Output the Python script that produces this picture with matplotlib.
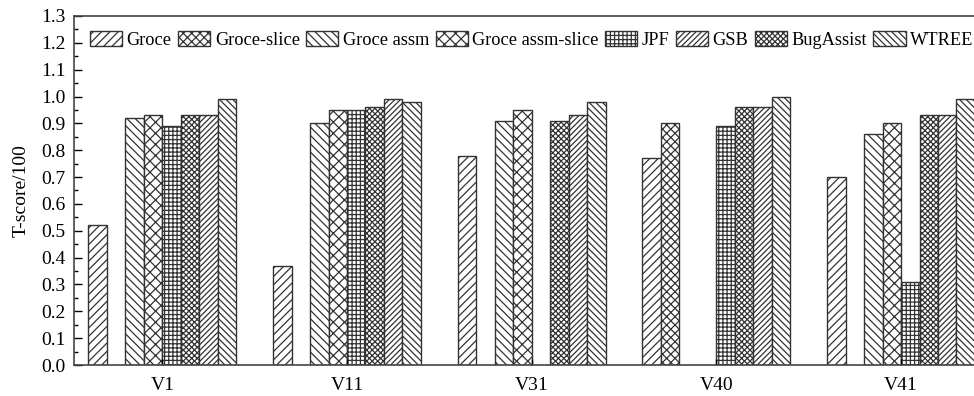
import matplotlib
matplotlib.use("Agg")
import matplotlib.pyplot as plt
import numpy as np

plt.rcParams['font.family'] = ['Liberation Serif', 'DejaVu Serif']
plt.rcParams['hatch.linewidth'] = 0.9

FS = 14

groups = ["V1", "V11", "V31", "V40", "V41"]

# bar order left->right inside each group
groce = [0.52, 0.37, 0.78, 0.77, 0.70]
groce_slice = [np.nan, np.nan, np.nan, 0.90, np.nan]
groce_assm = [0.92, 0.90, 0.91, np.nan, 0.86]
groce_assm_slice = [0.93, 0.95, 0.95, np.nan, 0.90]
jpf = [0.89, 0.95, np.nan, 0.89, 0.31]
bugassist = [0.93, 0.96, 0.91, 0.96, 0.93]
gsb = [0.93, 0.99, 0.93, 0.96, 0.93]
wtree = [0.99, 0.98, 0.98, 1.00, 0.99]

series = [
    ("Groce", groce, "////"),
    ("Groce-slice", groce_slice, "xxxx"),
    ("Groce assm", groce_assm, "\\\\\\\\"),
    ("Groce assm-slice", groce_assm_slice, "xxx"),
    ("JPF", jpf, "++++"),
    ("BugAssist", bugassist, "xxxxxx"),
    ("GSB", gsb, "//////"),
    ("WTREE", wtree, "\\\\\\\\\\"),
]
legend_order = ["Groce", "Groce-slice", "Groce assm", "Groce assm-slice",
                "JPF", "GSB", "BugAssist", "WTREE"]

fig = plt.figure(figsize=(9.74, 3.96), dpi=100)
ax = fig.add_axes([74 / 974, 31 / 396, 900 / 974, 349 / 396])

x = np.arange(len(groups))
w = 0.1
handles = {}
for i, (name, vals, hatch) in enumerate(series):
    bars = ax.bar(x + (i - 3.5) * w, vals, w, color="white", edgecolor="#333333",
                  hatch=hatch, linewidth=1.0, label=name)
    handles[name] = bars

ax.set_xlim(-0.478, 4.395)
ax.set_ylim(0, 1.3)
ax.set_yticks(np.arange(0, 1.31, 0.1))
ax.set_yticks(np.arange(0.05, 1.3, 0.1), minor=True)
ax.set_yticklabels(["%.1f" % v for v in np.arange(0, 1.31, 0.1)], fontsize=FS)
ax.set_xticks(x)
ax.set_xticklabels(groups, fontsize=FS)
ax.tick_params(axis='y', which='major', direction='in', length=6, width=1, pad=6)
ax.tick_params(axis='y', which='minor', direction='in', length=3, width=1)
ax.tick_params(axis='x', direction='in', length=4, width=1, pad=9)
ax.spines['right'].set_visible(False)
for s in ['left', 'top', 'bottom']:
    ax.spines[s].set_color('#444444')
    ax.spines[s].set_linewidth(1.2)
ax.set_ylabel("T-score/100", fontsize=FS, labelpad=8)

ax.legend([handles[n] for n in legend_order], legend_order, loc='upper left',
          bbox_to_anchor=(16 / 900, 1 - 15 / 349), ncol=8, frameon=False,
          fontsize=13.2, handlelength=1.75, handleheight=0.9, handletextpad=0.25,
          columnspacing=0.35, borderpad=0, borderaxespad=0)

fig.savefig("out.png", dpi=100)
